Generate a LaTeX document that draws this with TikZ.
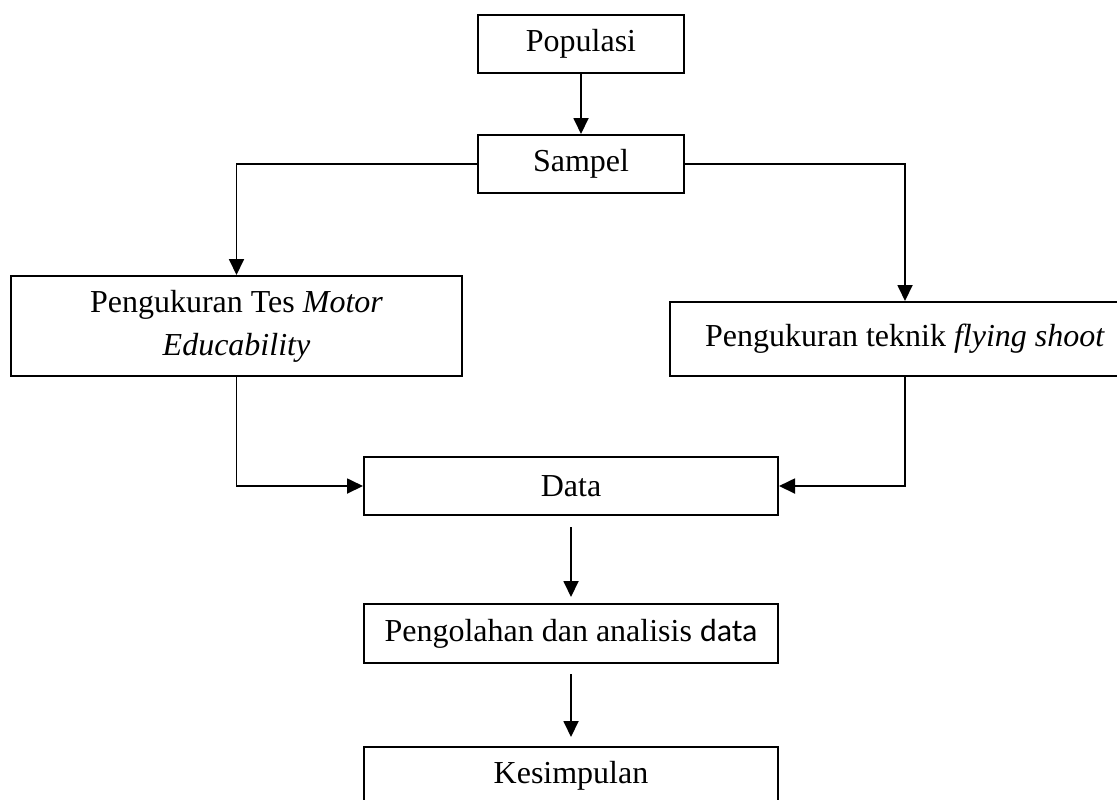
\documentclass[tikz,border=0pt]{standalone}
\usepackage{fontspec}
\setmainfont{Liberation Serif}
\newfontfamily\calibri{Carlito}
\usetikzlibrary{arrows.meta}
\tikzstyle{kotak}=[draw, rectangle, line width=1pt, inner sep=0pt, align=center, font=\fontsize{16}{21.5}\selectfont]
\tikzstyle{panah}=[line width=0.9pt, -{Triangle[length=8pt, width=7.5pt]}]

\begin{document}
\begin{tikzpicture}[x=0.5pt, y=-0.5pt]
  \useasboundingbox (0,0) rectangle (1117,799);
  \clip (0,0) rectangle (1117,799);
  \node[kotak, minimum width=103pt, minimum height=29pt] (populasi) at (581,44) {Populasi};
  \node[kotak, minimum width=103pt, minimum height=29pt] (sampel) at (581,164) {Sampel};
  \node[kotak, minimum width=225.5pt, minimum height=50pt] (ukurmotor) at (236.5,326)
    {Pengukuran Tes \textit{Motor}\\\textit{Educability}};
  \node[kotak, minimum width=235pt, minimum height=37pt] (ukurshoot) at (905,339)
    {Pengukuran teknik \textit{flying shoot}};
  \node[kotak, minimum width=207pt, minimum height=29pt] (data) at (571,486) {Data};
  \node[kotak, minimum width=207pt, minimum height=29.5pt] (olah) at (571,633.5)
    {Pengolahan dan analisis {\calibri data}};
  \node[kotak, minimum width=207pt, minimum height=29pt] (simpulan) at (571,776) {Kesimpulan};
  \draw[panah] (populasi) -- (sampel);
  \draw[panah] (sampel.west) -| (ukurmotor.north);
  \draw[panah] (sampel.east) -| (ukurshoot.north);
  \draw[panah] (ukurmotor.south) |- (data.west);
  \draw[panah] (ukurshoot.south) |- (data.east);
  \draw[panah, shorten <=5.5pt, shorten >=3pt] (data) -- (olah);
  \draw[panah, shorten <=5pt, shorten >=4.5pt] (olah) -- (simpulan);
\end{tikzpicture}
\end{document}
